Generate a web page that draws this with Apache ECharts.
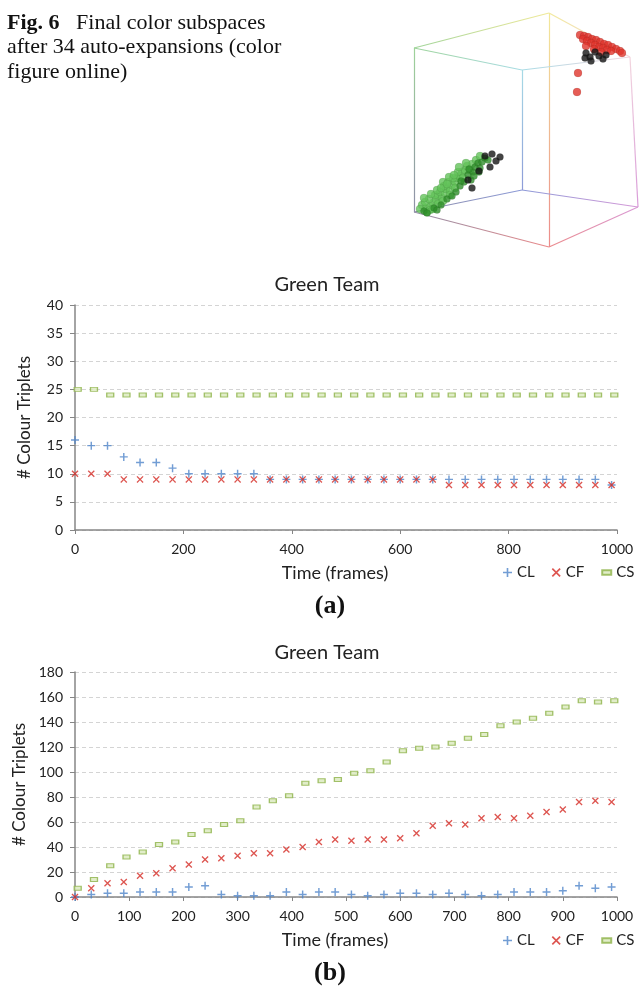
<!DOCTYPE html>
<html>
<head>
<meta charset="utf-8">
<script src="https://cdn.jsdelivr.net/npm/echarts@6/dist/echarts.min.js"></script>
<style>
html, body { margin: 0; padding: 0; background: #fff; }
#chart { width: 639px; height: 986px; }
</style>
</head>
<body>
<div id="chart"></div>
<script>
// sample times (frames) for CL / CF, CS is plotted slightly shifted
const frames = [0,30,60,90,120,150,180,210,240,270,300,330,360,390,420,450,480,510,540,570,600,630,660,690,720,750,780,810,840,870,900,930,960,990]
const csFrames = [5,35,65,95,125,155,185,215,245,275,305,335,365,395,425,455,485,515,545,575,605,635,665,695,725,755,785,815,845,875,905,935,965,995]

// (a)
const clA = [16,15,15,13,12,12,11,10,10,10,10,10,9,9,9,9,9,9,9,9,9,9,9,9,9,9,9,9,9,9,9,9,9,8]
const cfA = [10,10,10,9,9,9,9,9,9,9,9,9,9,9,9,9,9,9,9,9,9,9,9,8,8,8,8,8,8,8,8,8,8,8]
const csA = [25,25,24,24,24,24,24,24,24,24,24,24,24,24,24,24,24,24,24,24,24,24,24,24,24,24,24,24,24,24,24,24,24,24]

// (b)
const clB = [0,2,3,3,4,4,4,8,9,2,1,1,1,4,2,4,4,2,1,2,3,3,2,3,2,1,2,4,4,4,5,9,7,8]
const cfB = [0,7,11,12,17,19,23,26,30,31,33,35,35,38,40,44,46,45,46,46,47,51,57,59,58,63,64,63,65,68,70,76,77,76]
const csB = [7,14,25,32,36,42,44,50,53,58,61,72,77,81,91,93,94,99,101,108,117,119,120,123,127,130,137,140,143,147,152,157,156,157]

const yTicksA = [0, 40, 5]
const yTicksB = [0, 180, 20]

// colour cube picture (projected 2d coords)
const cubeNames = ["A","B","C","D","E","F","G","H"]
const cubeXY = [[14,48],[149,13],[230,57],[122,70],[14,212],[149,247],[238,207],[122,190]]
const cubeEdges = [["A","B"],["A","D"],["A","E"],["B","C"],["B","F"],["D","C"],["D","H"],["E","H"],["E","F"],["H","G"],["F","G"],["C","G"]]

const greenLight = [[22,205],[26,208],[30,206],[25,202],[33,203],[29,199],[36,200],[38,196],[42,198],[35,195],[40,192],[45,193],[46,189],[50,190],[44,186],[52,185],[48,182],[55,182],[57,178],[53,178],[60,176],[62,172],[58,172],[65,170],[30,210],[20,209],[38,204],[43,201],[50,195],[55,188],[63,178],[67,166],[70,170],[72,164],[24,198],[31,194],[37,190],[43,182],[49,177],[27,212],[33,209],[41,188],[47,184],[54,175],[59,167],[66,163],[76,160],[80,156]]
const greenDark = [[24,211],[34,208],[41,205],[47,199],[56,192],[60,186],[64,182],[68,175],[73,172],[75,167],[78,163],[82,162],[80,168],[85,158],[88,160],[79,172],[71,180],[27,213],[37,210],[52,196],[61,181],[69,169],[74,176]]
const greenBlack = [[85,156],[92,154],[100,157],[90,167],[79,171],[72,188],[68,180],[96,161]]
const redCloud = [[180,35],[184,36],[188,37],[192,39],[196,40],[200,42],[204,44],[208,45],[212,47],[216,49],[220,51],[222,53],[183,39],[187,41],[191,43],[195,45],[199,47],[203,48],[207,50],[186,46],[194,49],[201,52],[211,51],[178,73],[177,92]]
const redBlack = [[186,53],[190,57],[195,52],[199,56],[203,59],[191,61],[185,58],[206,55]]

const vertexColor = { A: "#9fd49a", B: "#f2ea9a", C: "#f3d6de", D: "#a8dce6", E: "#8f8fa8", F: "#ec8a8a", G: "#d89ad8", H: "#8c9ad8" }

const plusPath = "path://M4.1,0h1.8v4.1h4.1v1.8h-4.1v4.1h-1.8v-4.1h-4.1v-1.8h4.1z"
const crossPath = "path://M1.3,0L5,3.7L8.7,0L10,1.3L6.3,5L10,8.7L8.7,10L5,6.3L1.3,10L0,8.7L3.7,5L0,1.3Z"
const dashPath = "path://M0,0h10v5h-10z"

const FONT = "Lato"
const SERIF = "Liberation Serif"
const txt = "#222"

const pts = (xs, ys) => xs.map((x, i) => [x, ys[i]])

const xAxisFor = (grid, interval) => ({
  gridIndex: grid, type: "value", min: 0, max: 1000, interval: interval,
  axisLine: { lineStyle: { color: "#868686", width: 1.5 } },
  axisTick: { show: true, length: 4, lineStyle: { color: "#868686" } },
  axisLabel: { margin: 12, fontSize: 14, fontFamily: FONT, color: txt, formatter: (v) => String(v) },
  splitLine: { show: false },
  name: "Time (frames)", nameLocation: "middle", nameGap: 34,
  nameTextStyle: { fontSize: 18, fontFamily: FONT, color: txt, padding: [0, 22, 0, 0] }
})

const yAxisFor = (grid, t) => ({
  gridIndex: grid, type: "value", min: t[0], max: t[1], interval: t[2],
  axisLine: { show: true, lineStyle: { color: "#868686", width: 1.5 } },
  axisTick: { show: true, length: 5, lineStyle: { color: "#868686" } },
  axisLabel: { margin: 12, fontSize: 14, fontFamily: FONT, color: txt },
  splitLine: { show: true, lineStyle: { type: [4, 3], color: "#d4d4d4" } },
  name: "# Colour Triplets", nameLocation: "middle", nameGap: 42,
  nameTextStyle: { fontSize: 17, fontFamily: FONT, color: txt }
})

const teamSeries = (idx, cl, cf, cs) => ([
  { name: "CL", type: "scatter", xAxisIndex: idx, yAxisIndex: idx, data: pts(frames, cl),
    symbol: plusPath, symbolSize: 8, itemStyle: { color: "#4f85c9" } },
  { name: "CF", type: "scatter", xAxisIndex: idx, yAxisIndex: idx, data: pts(frames, cf),
    symbol: crossPath, symbolSize: 7, itemStyle: { color: "#d42a24" } },
  { name: "CS", type: "scatter", xAxisIndex: idx, yAxisIndex: idx, data: pts(csFrames, cs),
    symbol: "rect", symbolSize: [7, 4], itemStyle: { color: "#d9e8bb", borderColor: "#8db349", borderWidth: 1 } }
])

const legendFor = (top) => ({
  left: 503, top: top, width: 300, padding: 0, orient: "horizontal", itemWidth: 9, itemHeight: 9, itemGap: 17,
  selectedMode: false,
  textStyle: { fontSize: 15, fontFamily: FONT, color: txt },
  data: [{ name: "CL", icon: plusPath }, { name: "CF", icon: crossPath }, { name: "CS", icon: dashPath }]
})

const vIdx = (n) => cubeNames.indexOf(n)
const edgeData = cubeEdges.map(([p, q]) => {
  const a = cubeXY[vIdx(p)], b = cubeXY[vIdx(q)]
  const x0 = a[0] <= b[0] ? 0 : 1, y0 = a[1] <= b[1] ? 0 : 1
  return {
    coords: [a, b],
    lineStyle: { color: new echarts.graphic.LinearGradient(x0, y0, 1 - x0, 1 - y0, [
      { offset: 0, color: vertexColor[p] }, { offset: 1, color: vertexColor[q] }]) }
  }
})

const cloud = (data, color, size) => ({
  type: "scatter", xAxisIndex: 2, yAxisIndex: 2, data: data, symbol: "circle", symbolSize: size,
  itemStyle: { color: color, borderColor: "rgba(0,0,0,0.2)", borderWidth: 0.5 }, z: 5, silent: true
})

const chart = echarts.init(document.getElementById("chart"))
chart.setOption({
  animation: false,
  grid: [
    { left: 75, top: 305, width: 542, height: 225 },
    { left: 75, top: 672, width: 542, height: 225 },
    { left: 400, top: 0, width: 239, height: 250 }
  ],
  xAxis: [xAxisFor(0, 200), xAxisFor(1, 100),
    { gridIndex: 2, type: "value", min: 0, max: 239, show: false }],
  yAxis: [yAxisFor(0, yTicksA), yAxisFor(1, yTicksB),
    { gridIndex: 2, type: "value", min: 0, max: 250, inverse: true, show: false }],
  legend: [legendFor(565), legendFor(933)],
  graphic: [
    { type: "text", left: 7, top: 12, style: {
      text: "{b|Fig. 6}{n|   Final color subspaces}\n{n|after 34 auto-expansions (color}\n{n|figure online)}",
      fill: "#111",
      rich: { b: { font: "bold 22px \"" + SERIF + "\"", lineHeight: 24.5 }, n: { font: "22px \"" + SERIF + "\"", lineHeight: 24.5 } }
    } },
    { type: "text", x: 327, y: 285, style: { text: "Green Team", font: "20px " + FONT, fill: txt, align: "center", verticalAlign: "middle" } },
    { type: "text", x: 327, y: 653, style: { text: "Green Team", font: "20px " + FONT, fill: txt, align: "center", verticalAlign: "middle" } },
    { type: "text", x: 330, y: 606, style: { text: "(a)", font: "bold 26px \"" + SERIF + "\"", fill: "#111", align: "center", verticalAlign: "middle" } },
    { type: "text", x: 330, y: 973, style: { text: "(b)", font: "bold 26px \"" + SERIF + "\"", fill: "#111", align: "center", verticalAlign: "middle" } }
  ],
  series: [
    ...teamSeries(0, clA, cfA, csA),
    ...teamSeries(1, clB, cfB, csB),
    { type: "lines", coordinateSystem: "cartesian2d", xAxisIndex: 2, yAxisIndex: 2, polyline: false,
      data: edgeData, lineStyle: { width: 1.2, opacity: 1, curveness: 0 }, silent: true, z: 1 },
    cloud(greenLight, "#63c35a", 8),
    cloud(greenDark, "#2f8f2a", 7),
    cloud(greenBlack, "#151515", 7),
    cloud(redCloud, "#e0342c", 8),
    cloud(redBlack, "#151515", 7)
  ]
})
</script>
</body>
</html>
